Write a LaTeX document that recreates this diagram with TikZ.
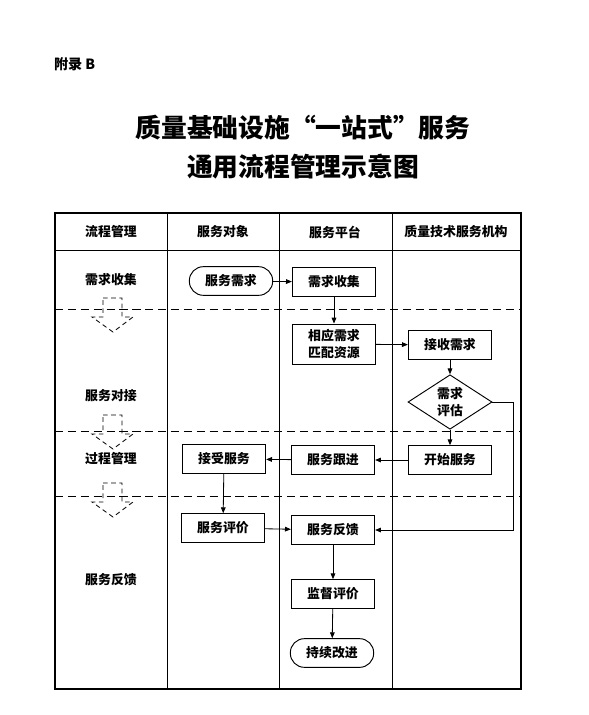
\documentclass[tikz,border=0pt]{standalone}
\usepackage{fontspec}
\setmainfont{Noto Sans CJK SC}
\usetikzlibrary{arrows.meta, positioning, calc, shapes.geometric}

\tikzset{
  box/.style={draw, line width=0.8pt, minimum width=2.5cm, minimum height=0.86cm, inner sep=0pt, align=center},
  endbox/.style={box, rounded corners=12pt},
  decide/.style={draw, diamond, line width=0.8pt, minimum width=2.52cm, minimum height=1.6cm, inner sep=0pt, align=center},
  flow/.style={->, line width=0.7pt},
  lane/.style={dashed, line width=0.8pt, dash pattern=on 7pt off 4pt},
  hint/.style={dashed, line width=0.7pt, dash pattern=on 4pt off 3pt}
}

\begin{document}
\begin{tikzpicture}[x=0.03cm, y=-0.03cm, font=\bfseries\fontsize{11}{14}\selectfont,
  >={Triangle[length=5pt,width=4pt]}]
  \useasboundingbox (0,0) rectangle (589,715);
  % headings
  \node[anchor=west, font=\bfseries\fontsize{12}{14}\selectfont] (appx) at (50,64) {附录 B};
  \node[font=\bfseries\fontsize{22}{26}\selectfont] (title1) at (303,128) {质量基础设施“一站式”服务};
  \node[font=\bfseries\fontsize{22}{26}\selectfont] (title2) at (303,167) {通用流程管理示意图};
  % table
  \draw[line width=0.9pt] (55,213) rectangle (521,689);
  \draw[line width=0.8pt] (55,250) -- (521,250);
  \foreach \x in {167,279,392} \draw[line width=0.8pt] (\x,213) -- (\x,689);
  \foreach \y in {309,431,496} \draw[lane] (55,\y) -- (521,\y);
  \node (h1) at (111,232) {流程管理};
  \node (h2) at (223,232) {服务对象};
  \node (h3) at (335,232) {服务平台};
  \node (h4) at (456,232) {质量技术服务机构};
  % stages
  \node (s1) at (111,280) {需求收集};
  \node (s2) at (111,396) {服务对接};
  \node (s3) at (111,459) {过程管理};
  \node (s4) at (111,580) {服务反馈};
  \foreach \t in {298,415,483}
    \draw[hint] (103,\t) -- ++(19,0) -- ++(0,19) -- ++(11,0) -- ++(-20,15) -- ++(-21,-15) -- ++(11,0) -- cycle;
  % flow
  \node[endbox] (need) at (231,281) {服务需求};
  \node[box] (collect) at (334,282) {需求收集};
  \node[box, minimum height=1.2cm] (match) at (334,344) {相应需求\\匹配资源};
  \node[box] (receive) at (450,345) {接收需求};
  \node[decide] (eval) at (450,402) {需求\\评估};
  \node[box] (start) at (450,460) {开始服务};
  \node[box] (track) at (333,460) {服务跟进};
  \node[box] (accept) at (224,459) {接受服务};
  \node[box] (rate) at (223,528) {服务评价};
  \node[box] (fb) at (333,530) {服务反馈};
  \node[box] (watch) at (333,594) {监督评价};
  \node[endbox] (improve) at (332,653) {持续改进};
  \draw[flow] (need) -- (collect);
  \draw[flow] (collect) -- (match);
  \draw[flow] (match) -- (receive);
  \draw[flow] (receive) -- (eval);
  \draw[flow] (eval) -- (start);
  \draw[flow] (eval.east) -- ++(21,0) |- (fb.east);
  \draw[flow] (start) -- (track);
  \draw[flow] (track) -- (accept);
  \draw[flow] (accept) -- (rate);
  \draw[flow] (rate) -- (fb);
  \draw[flow] (fb) -- (watch);
  \draw[flow] (watch) -- (improve);
\end{tikzpicture}
\end{document}
